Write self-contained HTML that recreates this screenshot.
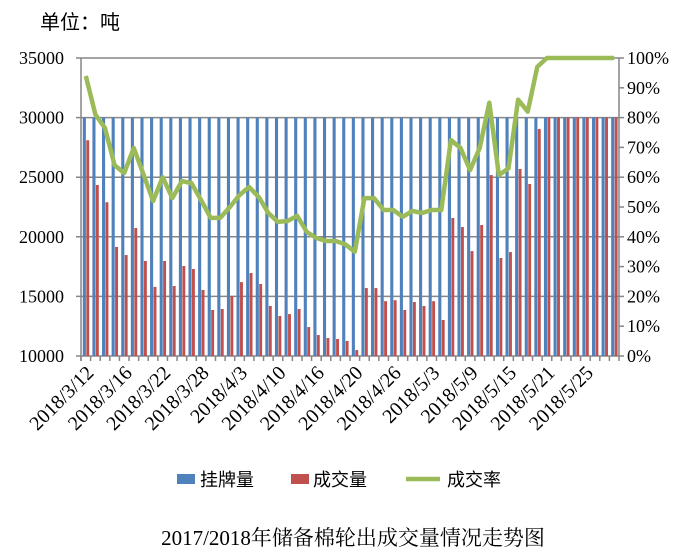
<!DOCTYPE html><html><head><meta charset="utf-8"><style>
html,body{margin:0;padding:0;background:#fff;width:691px;height:560px;overflow:hidden}
text{font-family:"Liberation Serif","Noto Serif CJK SC",serif;fill:#000}
</style></head><body>
<svg id="s" width="691" height="560" xmlns="http://www.w3.org/2000/svg"></svg>
<script>
const red=[28100,24350,22900,19150,18470,20740,17970,15800,17970,15870,17550,17300,15540,13860,13940,15030,16200,16960,16040,14200,13360,13520,13940,12430,11760,11510,11430,11260,10500,15700,15700,14600,14680,13860,14530,14200,14600,13020,21580,20820,18800,20990,25180,18220,18720,25690,24430,29040,30000,30000,30000,30000,30000,30000,30000,30000];
const pct=[94,81,76.5,64,61.4,69.8,61,52,60,53,58.7,58,52.3,46.3,46.4,50,54,56.7,53.4,48,45,45.3,47,41.6,39.6,38.6,38.6,37.5,35,53,53,49,49,46.7,48.7,48,49,49,72.5,69.8,62.4,69.8,85,60.7,63,86,82,97,100,100,100,100,100,100,100,100];
const X0=81,X1=619,Y0=356,Y1=58,N=56,w=(X1-X0)/N;
const vy=v=>Y0-(v-10000)/25000*(Y0-Y1);
const py=p=>Y0-p/100*(Y0-Y1);
let h='';
for(let i=0;i<=5;i++){let y=Y0-i*(Y0-Y1)/5;h+=`<line x1="${X0-5}" x2="${X1}" y1="${y}" y2="${y}" stroke="#868686" stroke-width="1.5"/>`;
h+=`<text x="64" y="${y+6}" font-size="18" text-anchor="end">${10000+i*5000}</text>`;}
for(let i=0;i<=10;i++){let y=Y0-i*(Y0-Y1)/10;h+=`<line x1="${X1}" x2="${X1+5}" y1="${y}" y2="${y}" stroke="#868686" stroke-width="1.5"/>`;
h+=`<text x="627" y="${y+6}" font-size="18">${i*10}%</text>`;}
h+=`<line x1="${X0}" x2="${X0}" y1="${Y1}" y2="${Y0+5}" stroke="#868686" stroke-width="1.5"/>`;
h+=`<line x1="${X1}" x2="${X1}" y1="${Y1}" y2="${Y0}" stroke="#868686" stroke-width="1.5"/>`;
for(let i=0;i<=N;i++){let x=X0+i*w;h+=`<line x1="${x}" x2="${x}" y1="${Y0}" y2="${Y0+5}" stroke="#868686" stroke-width="1.5"/>`;}
for(let i=0;i<N;i++){let x=X0+i*w;
h+=`<rect x="${x+1.8}" y="${vy(30000)}" width="3.1" height="${Y0-vy(30000)}" fill="#4f81bd"/>`;
h+=`<rect x="${x+5.3}" y="${vy(red[i])}" width="2.9" height="${Y0-vy(red[i])}" fill="#c0504d"/>`;}
h+=`<polyline fill="none" stroke="#9bbb59" stroke-width="4.5" stroke-linejoin="round" points="${pct.map((p,i)=>(X0+(i+.5)*w).toFixed(1)+','+py(p).toFixed(1)).join(' ')}"/>`;
const labs=['2018/3/12','2018/3/16','2018/3/22','2018/3/28','2018/4/3','2018/4/10','2018/4/16','2018/4/20','2018/4/26','2018/5/3','2018/5/9','2018/5/15','2018/5/21','2018/5/25'];
labs.forEach((l,k)=>{let x=X0+(k*4+0.5)*w+9,y=Y0+18;h+=`<text x="${x}" y="${y}" font-size="20" text-anchor="end" transform="rotate(-45 ${x} ${y})">${l}</text>`;});
h+=`<text x="40" y="29" font-size="20" style="font-family:'Noto Sans CJK SC',sans-serif">单位：吨</text>`;
h+=`<rect x="177" y="474" width="18" height="10" fill="#4f81bd"/><text x="200" y="486" font-size="18" style="font-family:'Noto Sans CJK SC',sans-serif">挂牌量</text>`;
h+=`<rect x="291" y="474" width="18" height="10" fill="#c0504d"/><text x="313" y="486" font-size="18" style="font-family:'Noto Sans CJK SC',sans-serif">成交量</text>`;
h+=`<line x1="406" x2="440" y1="479" y2="479" stroke="#9bbb59" stroke-width="4.5"/><text x="447" y="486" font-size="18" style="font-family:'Noto Sans CJK SC',sans-serif">成交率</text>`;
h+=`<text x="353" y="545" font-size="21" text-anchor="middle">2017/2018年储备棉轮出成交量情况走势图</text>`;
document.getElementById('s').innerHTML=h;
</script></body></html>
